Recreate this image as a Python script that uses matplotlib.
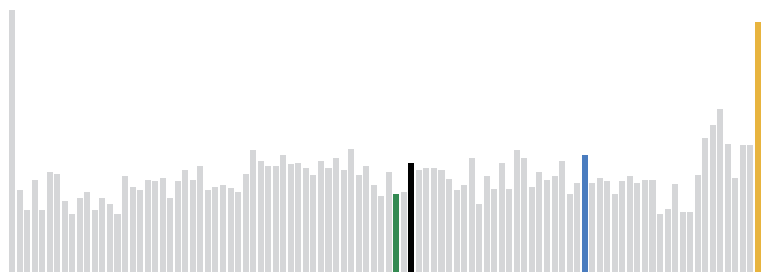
import matplotlib
matplotlib.use("Agg")
import matplotlib.pyplot as plt

# bar heights (pixel units, baseline = 0)
tops = [10, 190, 210, 180, 210, 172, 174, 201, 214, 198,
        192, 210, 198, 204, 214, 176, 187, 190, 180, 181,
        178, 198, 181, 170, 180, 166, 190, 187, 185, 188,
        192, 174, 150, 161, 166, 166, 155, 164, 163, 168,
        175, 161, 168, 158, 170, 149, 175, 166, 185, 196,
        172, 194, 192, 163, 170, 168, 168, 170, 179, 190,
        185, 158, 204, 176, 189, 163, 189, 150, 158, 187,
        172, 180, 176, 161, 194, 183, 155, 183, 178, 181,
        194, 181, 176, 183, 180, 180, 214, 209, 184, 212,
        212, 175, 138, 125, 109, 144, 178, 145, 145, 22]
values = [272 - t for t in tops]

# highlighted bars (index -> colour)
highlights = {51: "#338a52", 53: "#000000", 76: "#4a7cbf", 99: "#e8b43e"}

colors = [highlights.get(i, "#d5d6d8") for i in range(len(values))]

fig = plt.figure(figsize=(7.63, 2.72), dpi=100)
ax = fig.add_axes([0, 0, 1, 1])
ax.bar(range(len(values)), values, width=0.8, color=colors)
ax.set_xlim(-1.594, 99.665)
ax.set_ylim(0, 272)
ax.axis("off")

fig.savefig("out.png", dpi=100)
